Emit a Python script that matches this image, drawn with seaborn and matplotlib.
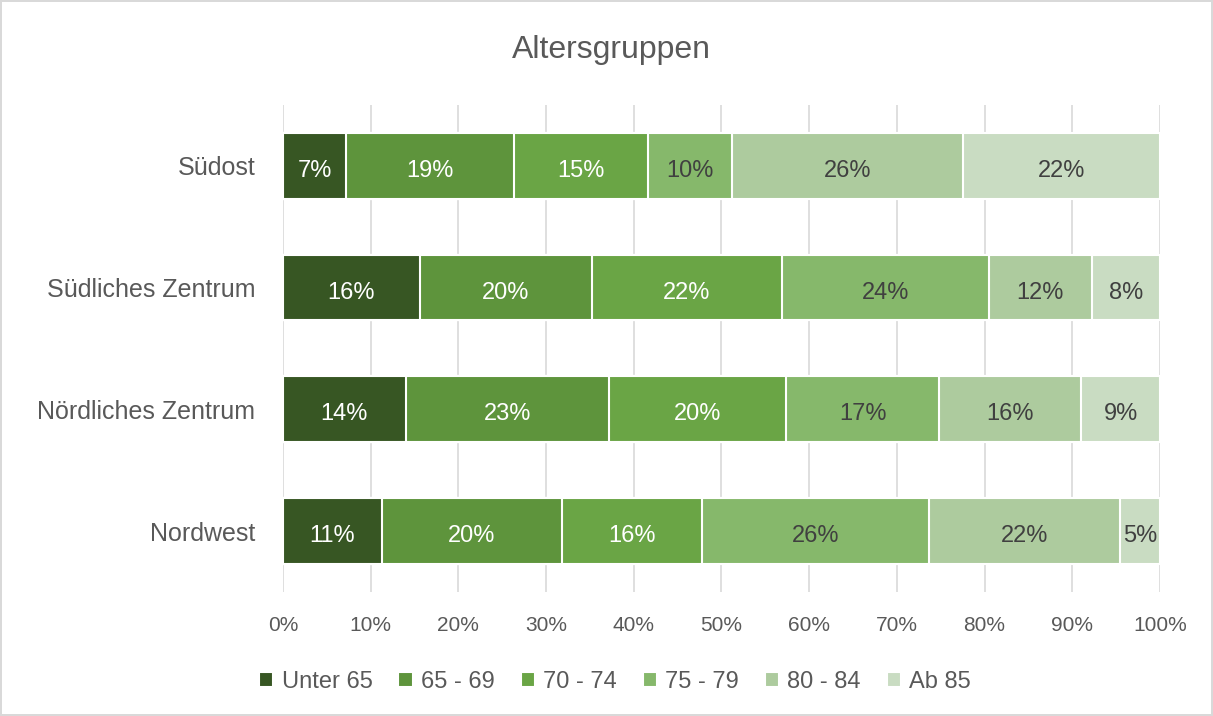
import matplotlib
matplotlib.use("Agg")
import matplotlib.pyplot as plt
import seaborn as sns
import pandas as pd
import numpy as np

sns.set_style("white")
plt.rcParams['font.family'] = ['Liberation Sans', 'DejaVu Sans']

regions = ["Südost", "Südliches Zentrum", "Nördliches Zentrum", "Nordwest"]
groups = ["Unter 65", "65 - 69", "70 - 74", "75 - 79", "80 - 84", "Ab 85"]
unter65 = [7.2, 15.6, 14.0, 11.3]
g65_69 = [19.1, 19.6, 23.2, 20.5]
g70_74 = [15.3, 21.7, 20.2, 16.0]
g75_79 = [9.6, 23.6, 17.4, 25.9]
g80_84 = [26.3, 11.7, 16.2, 21.7]
ab85 = [22.5, 7.8, 9.0, 4.6]
colors = ["#375623", "#5e943c", "#6aa545", "#86b86b", "#adcb9e", "#c9dcc2"]
label_colors = ["white", "white", "white", "#404040", "#404040", "#404040"]

df = pd.DataFrame({"Region": regions, "Unter 65": unter65, "65 - 69": g65_69,
                   "70 - 74": g70_74, "75 - 79": g75_79, "80 - 84": g80_84,
                   "Ab 85": ab85})
cum = df[groups].cumsum(axis=1)

fig = plt.figure(figsize=(12.13, 7.16), dpi=100)
fig.patch.set_edgecolor("#d9d9d9")
fig.patch.set_linewidth(1.5)
ax = fig.add_axes([0.2333, 0.1732, 0.7230, 0.6802])

# draw cumulative totals from largest down so they stack
for i in range(len(groups) - 1, -1, -1):
    g = groups[i]
    sns.barplot(x=cum[g], y=df["Region"], orient="h", color=colors[i],
                width=0.54, edgecolor="white", linewidth=1.5, ax=ax,
                label=g, saturation=1)

# segment labels
for i, g in enumerate(groups):
    left = cum[g] - df[g]
    for j in range(len(regions)):
        ax.text(left[j] + df[g][j] / 2, j + 0.02, f"{df[g][j]:.0f}%",
                ha="center", va="center_baseline", fontsize=17,
                color=label_colors[i])

ax.set_xlim(0, 100)
ax.set_xticks(np.arange(0, 101, 10))
ax.set_xticklabels([f"{t}%" for t in range(0, 101, 10)])
ax.grid(axis="x", color="#d9d9d9", linewidth=1.2)
ax.set_axisbelow(True)
for s in ax.spines.values():
    s.set_visible(False)
ax.tick_params(axis="both", length=0, labelsize=15, colors="#595959", pad=17)
ax.tick_params(axis="y", labelsize=18, pad=20)
ax.set_xlabel("")
ax.set_ylabel("")
if ax.get_legend():
    ax.get_legend().remove()

handles, labels = ax.get_legend_handles_labels()
order = [labels.index(g) for g in groups]
fig.legend([handles[k] for k in order], groups, loc="lower center",
           bbox_to_anchor=(0.507, 0.003), ncol=6, frameon=False, fontsize=17,
           handlelength=0.6, handleheight=0.6, handletextpad=0.35,
           columnspacing=1.1, labelcolor="#595959")

fig.text(0.504, 0.93, "Altersgruppen", ha="center", va="center",
         fontsize=23, color="#595959")

fig.savefig("out.png", dpi=100)
